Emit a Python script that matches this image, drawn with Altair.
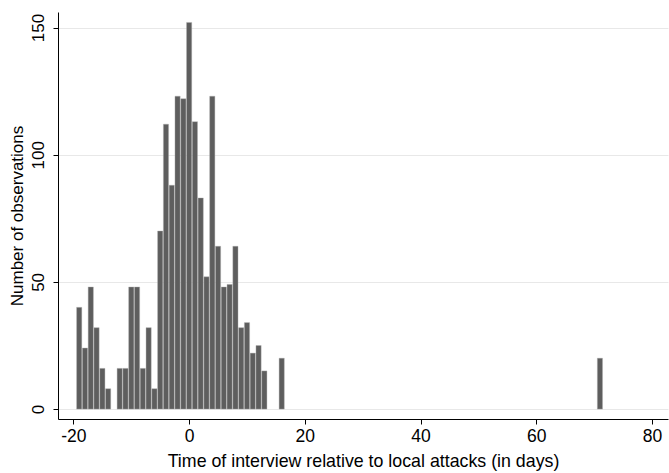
import altair as alt
import pandas as pd

days = [-19, -18, -17, -16, -15, -14, -12, -11, -10, -9, -8, -7, -6, -5, -4, -3, -2, -1,
        0, 1, 2, 3, 4, 5, 6, 7, 8, 9, 10, 11, 12, 13, 16, 71]
counts = [40, 24, 48, 32, 16, 8, 16, 16, 48, 48, 16, 32, 8, 70, 112, 88, 123, 122,
          152, 113, 83, 52, 123, 64, 48, 49, 64, 32, 34, 22, 25, 15, 20, 20]
x_ticks = [-20, 0, 20, 40, 60, 80]
y_ticks = [0, 50, 100, 150]

df = pd.DataFrame({"day": days, "n": counts})

FONT = "Liberation Sans"

bars = alt.Chart(df).mark_bar(
    size=5.2, color="#5e5e5e", stroke="#b0b0b0", strokeWidth=0.4
).encode(
    x=alt.X("day:Q", scale=alt.Scale(domain=[-21.8, 81.9], nice=False, zero=False),
            axis=alt.Axis(values=x_ticks, title="Time of interview relative to local attacks (in days)",
                          labelExpr="'' + datum.value",
                          grid=False, tickSize=5, tickColor="black", domainColor="black",
                          labelFontSize=17.5, titleFontSize=17.8, labelColor="black", titleColor="black",
                          labelFont=FONT, titleFont=FONT, titleFontWeight="normal",
                          labelPadding=3, titlePadding=8)),
    y=alt.Y("n:Q", scale=alt.Scale(domain=[-3.9, 156.1], nice=False, zero=False),
            axis=alt.Axis(values=y_ticks, title="Number of observations",
                          grid=True, gridColor="#e8e8e8", gridWidth=1,
                          tickSize=5, tickColor="black", domainColor="black",
                          labelAngle=270, labelAlign="center", labelBaseline="bottom",
                          labelFontSize=17, titleFontSize=17, labelColor="black", titleColor="black",
                          labelFont=FONT, titleFont=FONT, titleFontWeight="normal",
                          labelPadding=6, titlePadding=3)),
)

chart = bars.properties(
    width=610, height=407,
    autosize=alt.AutoSizeParams(type="none"),
    padding={"left": 58, "top": 12, "right": 1, "bottom": 54},
    background="white",
).configure_view(stroke=None)

chart.save("out.html", embed_options={"renderer": "svg", "actions": False})
